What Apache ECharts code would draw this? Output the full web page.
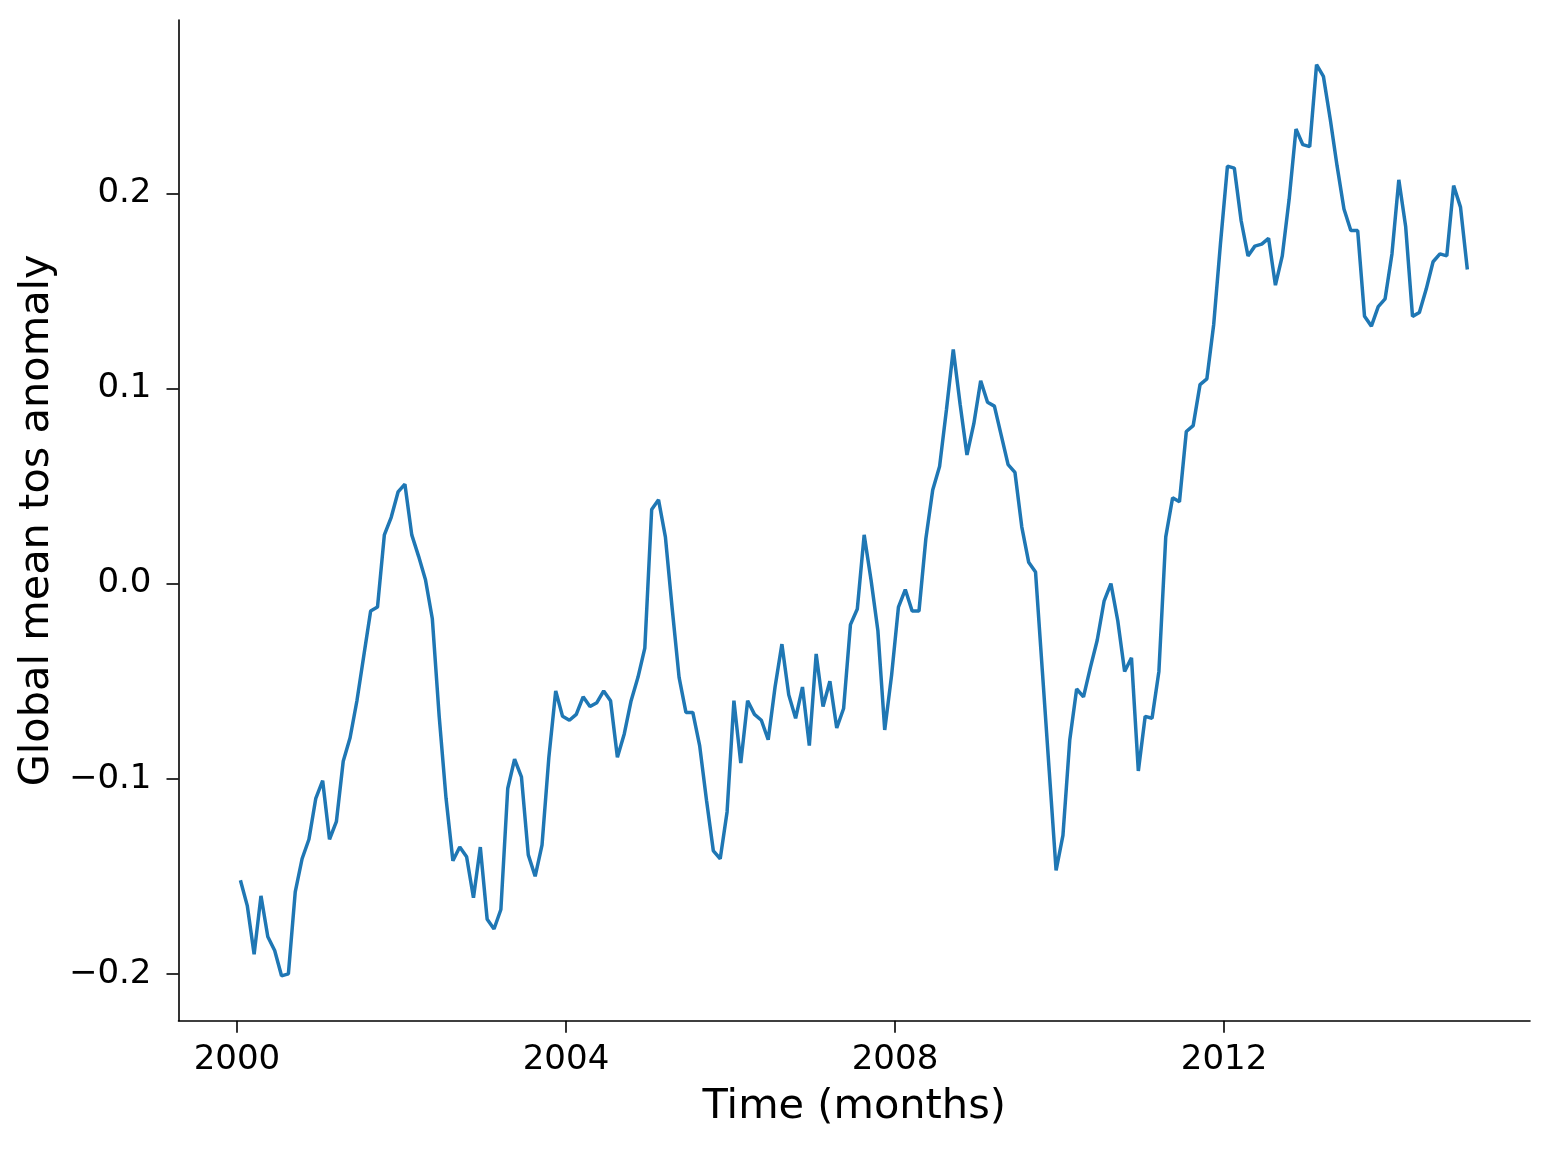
<!DOCTYPE html>
<html>
<head>
<meta charset="utf-8">
<script src="https://cdn.jsdelivr.net/npm/echarts@6/dist/echarts.min.js"></script>
<style>
  html, body { margin: 0; padding: 0; background: #fff; }
  #chart { width: 1550px; height: 1150px; }
</style>
</head>
<body>
<div id="chart"></div>
<script>
// monthly global mean tos anomaly, Jan 2000 .. Dec 2014
const startYear = 2000;
const anomaly = [
  -0.152, -0.165, -0.190, -0.160, -0.181, -0.188, -0.201, -0.200, -0.158, -0.141, -0.131, -0.110,
  -0.101, -0.131, -0.122, -0.091, -0.079, -0.060, -0.037, -0.014, -0.012, 0.025, 0.034, 0.047,
  0.051, 0.025, 0.014, 0.002, -0.018, -0.068, -0.110, -0.142, -0.135, -0.140, -0.161, -0.135,
  -0.172, -0.177, -0.167, -0.105, -0.090, -0.099, -0.139, -0.150, -0.134, -0.089, -0.055, -0.068,
  -0.070, -0.067, -0.058, -0.063, -0.061, -0.055, -0.060, -0.089, -0.077, -0.060, -0.048, -0.033,
  0.038, 0.043, 0.024, -0.013, -0.048, -0.066, -0.066, -0.083, -0.111, -0.137, -0.141, -0.117,
  -0.060, -0.092, -0.060, -0.067, -0.070, -0.080, -0.053, -0.031, -0.057, -0.069, -0.053, -0.083,
  -0.036, -0.063, -0.050, -0.074, -0.064, -0.021, -0.013, 0.025, 0.002, -0.024, -0.075, -0.047,
  -0.012, -0.003, -0.014, -0.014, 0.023, 0.048, 0.060, 0.089, 0.120, 0.092, 0.066, 0.082,
  0.104, 0.093, 0.091, 0.076, 0.061, 0.057, 0.029, 0.011, 0.006, -0.045, -0.096, -0.147,
  -0.129, -0.080, -0.054, -0.058, -0.043, -0.029, -0.009, 0.000, -0.019, -0.045, -0.038, -0.096,
  -0.068, -0.069, -0.045, 0.024, 0.044, 0.042, 0.078, 0.081, 0.102, 0.105, 0.133, 0.175,
  0.214, 0.213, 0.186, 0.168, 0.173, 0.174, 0.177, 0.153, 0.168, 0.197, 0.233, 0.225,
  0.224, 0.266, 0.260, 0.238, 0.214, 0.192, 0.181, 0.181, 0.137, 0.132, 0.142, 0.146,
  0.169, 0.207, 0.183, 0.137, 0.139, 0.151, 0.165, 0.169, 0.168, 0.204, 0.193, 0.161
];
const xTicks = [2000, 2004, 2008, 2012];
const yTicks = [-0.2, -0.1, 0.0, 0.1, 0.2];

// mid-month positions in decimal years
const points = anomaly.map((v, i) => [startYear + (i + 0.5) / 12, v]);

const font = "DejaVu Sans";
const chart = echarts.init(document.getElementById("chart"));

chart.setOption({
  animation: false,
  grid: { left: 178.5, top: 20, right: 20, bottom: 129.3, containLabel: false },
  xAxis: {
    type: "value",
    min: 1999.289,
    max: 2015.72,
    name: "Time (months)",
    nameLocation: "middle",
    nameGap: 66,
    nameTextStyle: { fontFamily: font, fontSize: 41.5, color: "#000" },
    axisLine: { show: true, onZero: false, lineStyle: { color: "#000", width: 1.6 } },
    axisTick: { show: true, customValues: xTicks, length: 12, lineStyle: { color: "#000", width: 1.6 } },
    axisLabel: {
      customValues: xTicks,
      fontFamily: font, fontSize: 34, color: "#000", margin: 22,
      formatter: (v) => String(Math.round(v))
    },
    splitLine: { show: false }
  },
  yAxis: {
    type: "value",
    min: -0.224,
    max: 0.2889,
    name: "Global mean tos anomaly",
    nameLocation: "middle",
    nameRotate: 90,
    nameGap: 117,
    nameTextStyle: { fontFamily: font, fontSize: 41.5, color: "#000" },
    axisLine: { show: true, onZero: false, lineStyle: { color: "#000", width: 1.6 } },
    axisTick: { show: true, customValues: yTicks, length: 12, lineStyle: { color: "#000", width: 1.6 } },
    axisLabel: {
      customValues: yTicks,
      fontFamily: font, fontSize: 34, color: "#000", margin: 27,
      formatter: (v) => v.toFixed(1).replace("-", "\u2212")
    },
    splitLine: { show: false }
  },
  series: [
    {
      type: "line",
      data: points,
      showSymbol: false,
      lineStyle: { color: "#1f77b4", width: 3.5 },
      itemStyle: { color: "#1f77b4" }
    }
  ]
});
</script>
</body>
</html>
